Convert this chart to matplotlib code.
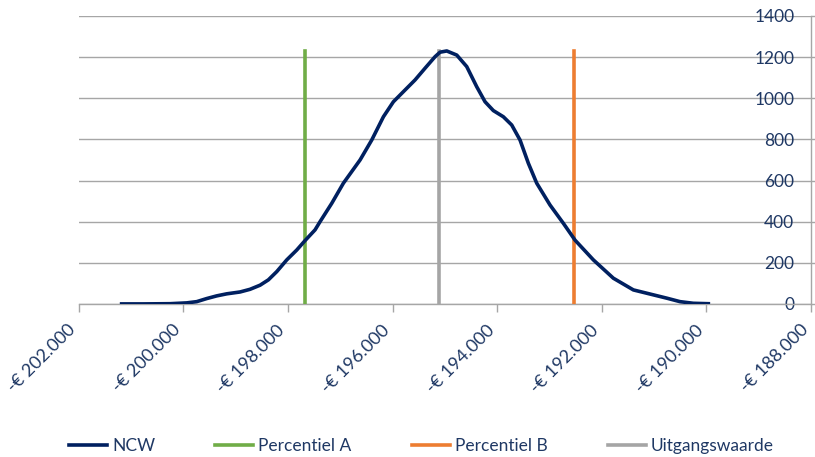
import matplotlib.pyplot as plt
from matplotlib.ticker import FuncFormatter, MultipleLocator
from matplotlib.transforms import ScaledTranslation

plt.rcParams["font.family"] = ["Lato", "DejaVu Sans"]

# ---------------------------------------------------
# DATA
# ---------------------------------------------------

ncw_x = [-201180, -200765, -200254, -199935, -199744, -199553, -199362,
         -199170, -198916, -198725, -198533, -198374, -198214, -198023,
         -197832, -197673, -197482, -197386, -197163, -196940, -196621,
         -196398, -196175, -195984, -195793, -195570, -195379, -195188,
         -195092, -194964, -194773, -194582, -194391, -194232, -194073,
         -193882, -193722, -193563, -193404, -193244, -192990, -192735,
         -192511, -192161, -191779, -191396, -191014, -190759, -190505,
         -190250, -189963]
ncw_y = [0, 0, 1, 5, 11, 26, 39,
         49, 58, 71, 91, 117, 157, 214,
         262, 308, 360, 400, 489, 587, 700,
         797, 910, 983, 1032, 1089, 1146, 1202,
         1224, 1230, 1210, 1154, 1056, 983, 940,
         910, 870, 797, 684, 587, 481, 392,
         310, 214, 125, 68, 44, 28, 11,
         3, 1]

percentiel_a = -197680
percentiel_b = -192530
uitgangswaarde = -195120
marker_top = 1228

NAVY = "#002060"
GREEN = "#70AD47"
ORANGE = "#ED7D31"
GREY = "#A5A5A5"
TEXT = "#1F3864"

# ---------------------------------------------------
# PLOT
# ---------------------------------------------------

fig = plt.figure(figsize=(8.15, 4.57), dpi=100)
ax = fig.add_axes([0.0966, 0.335, 0.8985, 0.63])

ax.plot(ncw_x, ncw_y, color=NAVY, lw=2.6, label="NCW", zorder=4,
        solid_joinstyle="round")
ax.plot([percentiel_a, percentiel_a], [0, marker_top], color=GREEN, lw=2.6,
        label="Percentiel A", zorder=3)
ax.plot([percentiel_b, percentiel_b], [0, marker_top], color=ORANGE, lw=2.6,
        label="Percentiel B", zorder=3)
ax.plot([uitgangswaarde, uitgangswaarde], [0, marker_top], color=GREY, lw=2.6,
        label="Uitgangswaarde", zorder=3)

ax.set_xlim(-202000, -188000)
ax.set_ylim(0, 1400)
ax.xaxis.set_major_locator(MultipleLocator(2000))
ax.yaxis.set_major_locator(MultipleLocator(200))
ax.xaxis.set_major_formatter(
    FuncFormatter(lambda v, _: "-€ " + f"{abs(v):,.0f}".replace(",", "."))
)

ax.grid(axis="y", color="#A6A6A6", lw=1.0)
ax.set_axisbelow(True)

for side in ["left", "top"]:
    ax.spines[side].set_visible(False)
for side in ["bottom", "right"]:
    ax.spines[side].set_color("#A6A6A6")
    ax.spines[side].set_linewidth(1.0)

ax.yaxis.tick_right()
ax.tick_params(axis="y", length=4, width=1, color="#A6A6A6",
               labelsize=12.5, labelcolor=TEXT, pad=-16)
for lab in ax.get_yticklabels():
    lab.set_horizontalalignment("right")

ax.tick_params(axis="x", length=6, width=1, color="#A6A6A6",
               labelsize=13, labelcolor=TEXT, pad=11)
# nudge the rotated labels a little left so the last one stays inside
shift = ScaledTranslation(-4 / 72, 0, fig.dpi_scale_trans)
for lab in ax.get_xticklabels():
    lab.set_rotation(45)
    lab.set_horizontalalignment("right")
    lab.set_verticalalignment("center")
    lab.set_rotation_mode("anchor")
    lab.set_transform(lab.get_transform() + shift)

handles, labels = ax.get_legend_handles_labels()
leg = fig.legend(handles, labels, loc="center", bbox_to_anchor=(0.517, 0.024),
                 ncol=4, frameon=False, fontsize=12.5, handlelength=2.2,
                 handletextpad=0.3, columnspacing=3.45)
for t in leg.get_texts():
    t.set_color(TEXT)

fig.savefig("out.png", dpi=100)
